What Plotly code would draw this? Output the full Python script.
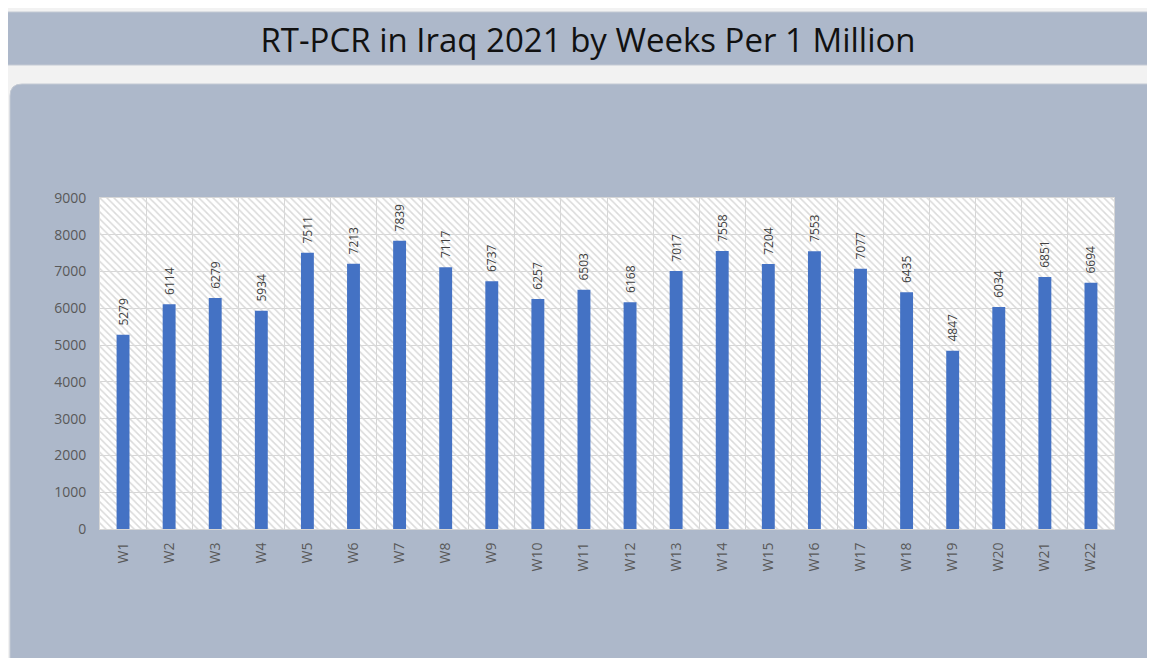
import plotly.graph_objects as go

# dados do grafico
weeks = ["W" + str(i) for i in range(1, 23)]
tests = [5279, 6114, 6279, 5934, 7511, 7213, 7839, 7117, 6737, 6257, 6503,
         6168, 7017, 7558, 7204, 7553, 7077, 6435, 4847, 6034, 6851, 6694]
y_ticks = [0, 1000, 2000, 3000, 4000, 5000, 6000, 7000, 8000, 9000]
y_max = 9000

# a pagina tem margem de 8px no body
OFF = 8
W, H = 1155 - OFF, 658 - OFF
L, T = 100 - OFF, 198 - OFF
R, B = 1155 - 1114, 658 - 529
pw, ph = W - L - R, H - T - B


def px_x(x):
    return (x - OFF - L) / pw


def px_y(y):
    return (H - B - (y - OFF)) / ph


fig = go.Figure()

# fundo hachurado da area do grafico
fig.add_trace(go.Bar(
    x=weeks, y=[y_max] * len(weeks), width=1,
    marker=dict(color="#dadada", line=dict(width=0),
                pattern=dict(shape="\\", size=5, solidity=0.3, fillmode="replace")),
    hoverinfo="skip", showlegend=False,
))

fig.add_trace(go.Bar(
    x=weeks, y=tests, width=0.28,
    marker=dict(color="#4472c4", line=dict(width=0)),
    text=tests, texttemplate="  %{text}", textposition="outside",
    textangle=-90, cliponaxis=False,
    textfont=dict(family="Open Sans", size=12, color="#404040"),
    showlegend=False,
))

# barra do titulo
fig.add_shape(type="rect", xref="paper", yref="paper", layer="below",
              x0=px_x(4), x1=px_x(1170), y0=px_y(12), y1=px_y(65),
              fillcolor="#adb8ca", line=dict(width=1, color="#c4cad4"))

# painel com cantos arredondados
x0, x1, y0, y1 = px_x(10), px_x(1170), px_y(84), px_y(680)
rx, ry = 12 / pw, 12 / ph
path = (f"M {x0} {y1} L {x0} {y0 - ry} Q {x0} {y0} {x0 + rx} {y0} "
        f"L {x1} {y0} L {x1} {y1} Z")
fig.add_shape(type="path", path=path, xref="paper", yref="paper", layer="below",
              fillcolor="#adb8ca", line=dict(width=1, color="#c4cad4"))

# area do grafico em branco
fig.add_shape(type="rect", xref="paper", yref="paper", layer="below",
              x0=0, x1=1, y0=0, y1=1, fillcolor="white", line=dict(width=0))

fig.update_layout(
    width=W, height=H,
    margin=dict(l=L, r=R, t=T, b=B),
    paper_bgcolor="#f2f2f2",
    plot_bgcolor="white",
    barmode="overlay",
    title=dict(text="RT-PCR in Iraq 2021 by Weeks Per 1 Million",
               x=px_x(588), xref="paper", xanchor="center",
               y=1 - (40 - OFF) / H, yanchor="middle",
               font=dict(family="Open Sans", size=33, color="#111111")),
    font=dict(family="Open Sans"),
)
fig.update_traces(constraintext="none", selector=dict(type="bar"))

fig.update_xaxes(
    type="category", tickson="boundaries", showgrid=True,
    gridcolor="#d6d6d6", gridwidth=1, tickangle=-90,
    ticks="", ticklabelstandoff=7,
    tickfont=dict(size=14, color="#595959"),
    showline=True, linecolor="#d6d6d6", mirror=True,
)
fig.update_yaxes(
    range=[0, y_max], tickvals=y_ticks, showgrid=True,
    gridcolor="#d6d6d6", gridwidth=1, zeroline=False,
    ticks="", ticklabelstandoff=10,
    tickfont=dict(size=14, color="#595959"),
    showline=True, linecolor="#d6d6d6", mirror=True,
)

fig.write_html("out.html")
